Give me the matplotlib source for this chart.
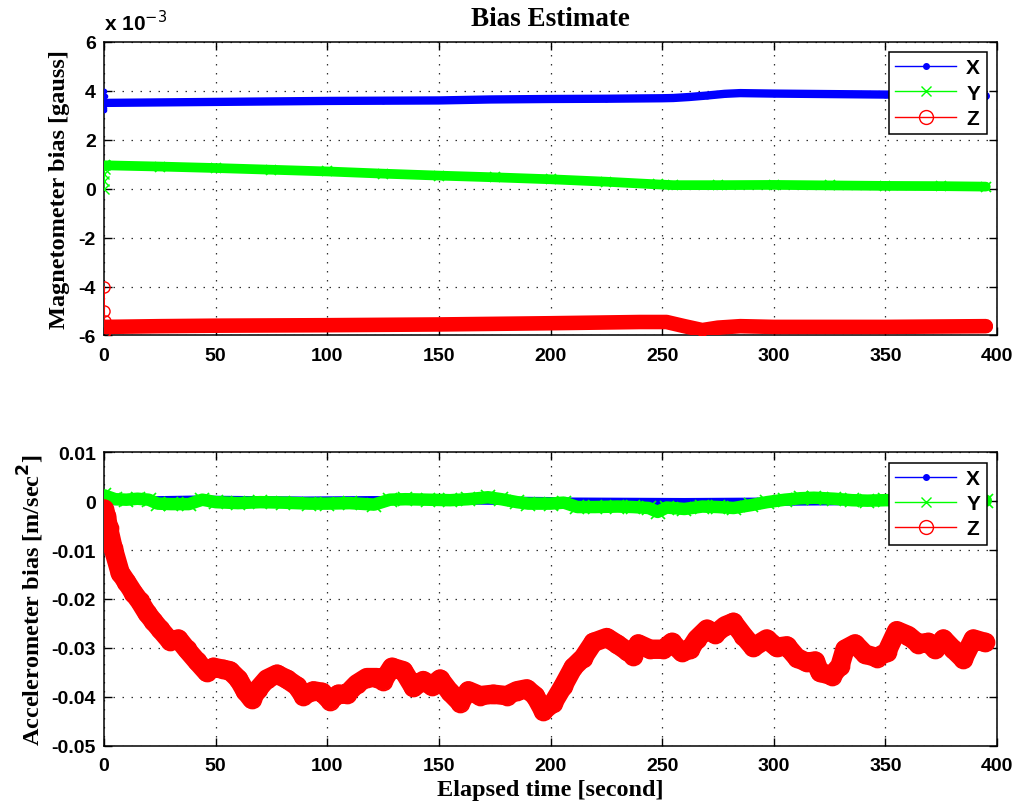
import matplotlib

matplotlib.use("Agg")
import matplotlib.pyplot as plt
from matplotlib.lines import Line2D

# ---- magnetometer bias (units of 1e-3 gauss) ----
MAG_START_T = [0.0, 0.1, 0.2, 0.3, 0.4]
MAG_X_START = [3.2, 4.0, 3.3, 3.8, 3.5]
MAG_Y_START = [0.0, 0.6, 0.3, 0.8, 0.95]
MAG_Z_START = [-5.9, -4.0, -5.0, -5.8, -5.4]

MAG_X_T = [0.4, 25, 50, 75, 100, 125, 150, 173, 200, 225, 250, 255, 262, 270, 278, 285, 300, 325, 350, 375, 395]
MAG_X = [3.5, 3.52, 3.54, 3.56, 3.58, 3.59, 3.6, 3.64, 3.66, 3.67, 3.69, 3.7, 3.74, 3.8, 3.87, 3.9, 3.88, 3.86, 3.84, 3.8, 3.78]

MAG_Y_T = [0.4, 25, 50, 75, 100, 125, 150, 175, 200, 225, 248, 255, 275, 300, 325, 350, 375, 395]
MAG_Y = [0.95, 0.9, 0.84, 0.77, 0.7, 0.61, 0.53, 0.46, 0.38, 0.28, 0.17, 0.14, 0.14, 0.15, 0.13, 0.11, 0.1, 0.08]

MAG_Z_T = [0.4, 25, 50, 100, 150, 200, 240, 252, 260, 268, 275, 285, 300, 350, 395]
MAG_Z = [-5.65, -5.62, -5.6, -5.58, -5.55, -5.5, -5.45, -5.45, -5.62, -5.78, -5.68, -5.62, -5.65, -5.65, -5.62]

# ---- accelerometer bias (m/sec^2) ----
ACC_X_T = [0, 40, 90, 120, 150, 200, 210, 260, 300, 330, 395]
ACC_X = [0.0, 0.0003, 0.0001, 0.0002, 0.0002, 0.0, -0.0001, -0.0002, -0.0001, 0.0, 0.0]

ACC_Y_T = [0, 5, 10, 15, 20, 24, 30, 38, 44, 50, 60, 70, 80, 92, 100, 110, 121, 128, 135, 145,
           155, 163, 172, 178, 185, 190, 200, 206, 212, 220, 230, 237, 244, 248, 252, 260, 268,
           275, 282, 290, 297, 305, 312, 318, 327, 335, 342, 350, 360, 370, 380, 395]
ACC_Y = [0.0012, 0.0004, 0.0003, 0.0005, 0.0003, -0.0005, -0.0006, -0.0006, 0.0003, -0.0002,
         -0.0004, -0.0002, -0.0003, -0.0005, -0.0005, -0.0004, -0.0007, 0.0003, 0.0004, 0.0003,
         0.0002, 0.0004, 0.0008, 0.0004, -0.0002, -0.0005, -0.0005, -0.0003, -0.0012, -0.0012,
         -0.0011, -0.0012, -0.0014, -0.0022, -0.0013, -0.0016, -0.0011, -0.0012, -0.0014, -0.0008,
         -0.0002, 0.0003, 0.0006, 0.0007, 0.0005, 0.0002, 0.0001, 0.0002, 0.0002, 0.0001, 0.0, 0.0001]

ACC_Z_T = [0, 1, 2, 4, 7.2, 10, 13.1, 16, 19.1, 22, 25.1, 29.6, 33.3, 37, 41.5, 46, 49, 53.4, 56.4,
           60.2, 63.2, 66.1, 69.1, 72.9, 77.4, 81.8, 86.3, 89.3, 93.8, 97.5, 101.2, 105, 108.7,
           113.2, 117.7, 122.2, 125.1, 128.9, 134.1, 138.6, 143, 146.8, 150.5, 155, 159.5, 163.2,
           168.4, 174.4, 180.4, 184.9, 189.3, 193.1, 196.8, 201.3, 205.7, 210.2, 214.7, 219.2,
           225.2, 229.7, 234.1, 237.1, 239.3, 244.6, 250.5, 254.3, 258.8, 262.5, 265.5, 270,
           273.7, 278.2, 281.9, 286.4, 290.8, 296.8, 301.3, 305.8, 310.3, 314.8, 318.5, 320.7,
           326, 329.7, 331.9, 336.4, 340.9, 346.1, 350.6, 355.1, 360.3, 364.8, 369.2, 372.2,
           376, 380.4, 384.9, 389.4, 394.6]
ACC_Z = [-0.0016, -0.003, -0.0055, -0.0095, -0.0146, -0.0165, -0.0187, -0.0205, -0.0228, -0.0245,
         -0.0262, -0.0286, -0.0282, -0.0303, -0.0327, -0.035, -0.034, -0.0344, -0.0347, -0.0364,
         -0.0388, -0.0405, -0.0384, -0.0364, -0.0354, -0.0364, -0.0378, -0.0398, -0.0388, -0.0391,
         -0.0408, -0.0395, -0.0395, -0.0374, -0.0361, -0.0361, -0.0367, -0.034, -0.0347, -0.0381,
         -0.0367, -0.0378, -0.0364, -0.0391, -0.0412, -0.0388, -0.0398, -0.0395, -0.0398, -0.0388,
         -0.0384, -0.0398, -0.0429, -0.0412, -0.0378, -0.034, -0.032, -0.0289, -0.0279, -0.0292,
         -0.0306, -0.0316, -0.0292, -0.0303, -0.0303, -0.0289, -0.0309, -0.0303, -0.0282, -0.0262,
         -0.0272, -0.0255, -0.0248, -0.0275, -0.0299, -0.0282, -0.0299, -0.0296, -0.032, -0.033,
         -0.0327, -0.035, -0.0357, -0.0337, -0.0303, -0.0292, -0.0313, -0.032, -0.0309, -0.0265,
         -0.0275, -0.0292, -0.0289, -0.0303, -0.0282, -0.0303, -0.0323, -0.0282, -0.0289]

MAG_YTICKS = [-6, -4, -2, 0, 2, 4, 6]
ACC_YTICKS = [-0.05, -0.04, -0.03, -0.02, -0.01, 0, 0.01]
ACC_YLABELS = ["-0.05", "-0.04", "-0.03", "-0.02", "-0.01", "0", "0.01"]
XTICKS = [0, 50, 100, 150, 200, 250, 300, 350, 400]

BLUE, GREEN, RED = "#0000ff", "#00ff00", "#ff0000"
SANS = "Liberation Sans"
SERIF = "Liberation Serif"


def band(ax, t, v, color, lw, marker, ms, z):
    ax.plot(t, v, color=color, lw=lw, solid_joinstyle="round", solid_capstyle="round", zorder=z)
    ax.plot(t, v, ls="none", marker=marker, ms=ms, color=color, mfc="none" if marker == "o" else color,
            mew=1.2, zorder=z)


def style_axes(ax, yticks, ylabels, ylim):
    ax.set_xlim(0, 400)
    ax.set_ylim(*ylim)
    ax.set_xticks(XTICKS)
    ax.set_xticklabels([str(x) for x in XTICKS])
    ax.set_yticks(yticks)
    ax.set_yticklabels(ylabels)
    ax.tick_params(direction="in", length=6, width=1, top=True, right=True)
    ax.tick_params(axis="x", pad=8)
    ax.tick_params(axis="y", pad=6)
    for lab in ax.get_xticklabels() + ax.get_yticklabels():
        lab.set_fontfamily(SANS)
        lab.set_fontweight("bold")
        lab.set_fontsize(14)
    ax.grid(True, color="#303030", linestyle=(0, (1.2, 6)), linewidth=0.9)
    ax.set_axisbelow(True)
    for sp in ax.spines.values():
        sp.set_linewidth(1.1)


def add_legend(ax):
    handles = [
        Line2D([], [], color=BLUE, lw=1, marker=".", ms=8),
        Line2D([], [], color=GREEN, lw=1, marker="x", ms=7),
        Line2D([], [], color=RED, lw=1, marker="o", ms=10, mfc="none"),
    ]
    leg = ax.legend(handles, ["X", "Y", "Z"], loc="upper right", handlelength=2.9,
                    prop={"family": SANS, "weight": "bold", "size": 15},
                    fancybox=False, framealpha=1, edgecolor="black", borderaxespad=0.5,
                    labelspacing=0.3, borderpad=0.3, handletextpad=0.5)
    leg.get_frame().set_linewidth(1.1)
    leg.set_zorder(10)


fig = plt.figure(figsize=(10.17, 8.04), dpi=100)
ax1 = fig.add_axes([0.1023, 0.5815, 0.878, 0.3654])
ax2 = fig.add_axes([0.1023, 0.0715, 0.878, 0.3647])

# top: magnetometer
band(ax1, MAG_X_T, MAG_X, BLUE, 6, ".", 6, 3)
ax1.plot(MAG_START_T, MAG_X_START, color=BLUE, lw=0.8, marker=".", ms=6, zorder=3)
band(ax1, MAG_Y_T, MAG_Y, GREEN, 7, "x", 7, 4)
ax1.plot(MAG_START_T, MAG_Y_START, color=GREEN, lw=0.8, marker="x", ms=7, zorder=4)
band(ax1, MAG_Z_T, MAG_Z, RED, 10.5, "o", 8, 5)
ax1.plot(MAG_START_T, MAG_Z_START, color=RED, lw=0.8, marker="o", ms=8, mfc="none", zorder=5)
style_axes(ax1, MAG_YTICKS, [str(v) for v in MAG_YTICKS], (-6, 6))
ax1.set_ylabel("Magnetometer bias [gauss]", family=SERIF, weight="bold", fontsize=17.5, labelpad=6)
ax1.set_title("Bias Estimate", family=SERIF, weight="bold", fontsize=19.5, pad=12)
ax1.text(0.0, 1.025, r"x 10$^{-3}$", transform=ax1.transAxes, ha="left", va="bottom",
         family=SANS, weight="bold", fontsize=15)
add_legend(ax1)

# bottom: accelerometer
band(ax2, ACC_X_T, ACC_X, BLUE, 6, ".", 6, 3)
band(ax2, ACC_Y_T, ACC_Y, GREEN, 9, "x", 10, 4)
band(ax2, ACC_Z_T, ACC_Z, RED, 14, "o", 13, 5)
style_axes(ax2, ACC_YTICKS, ACC_YLABELS, (-0.05, 0.01))
ax2.set_ylabel("Accelerometer bias [m/sec$^{\\mathbf{2}}$]", family=SERIF, weight="bold", fontsize=17.5,
               labelpad=4)
ax2.set_xlabel("Elapsed time [second]", family=SERIF, weight="bold", fontsize=17.5, labelpad=4)
add_legend(ax2)

fig.savefig("out.png", dpi=100)
